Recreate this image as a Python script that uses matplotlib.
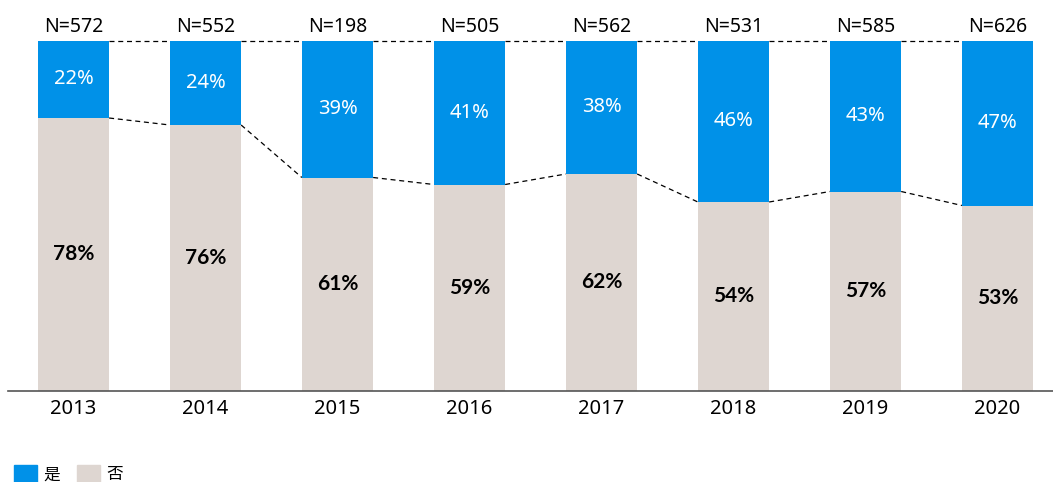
import matplotlib.pyplot as plt
from matplotlib.patches import Rectangle
import numpy as np

plt.rcParams['font.family'] = ['Noto Sans', 'Noto Sans CJK SC', 'DejaVu Sans']

years = ['2013', '2014', '2015', '2016', '2017', '2018', '2019', '2020']
yes_pct = [22, 24, 39, 41, 38, 46, 43, 47]
no_pct = [78, 76, 61, 59, 62, 54, 57, 53]
n_counts = [572, 552, 198, 505, 562, 531, 585, 626]

blue = '#0091E8'
beige = '#DED6D1'
bw = 0.54

fig = plt.figure(figsize=(10.53, 4.82), dpi=100)
ax = fig.add_axes([8 / 1053, 91 / 482, 1045 / 1053, 350 / 482])

x = np.arange(len(years))
ax.bar(x, no_pct, width=bw, color=beige, zorder=2)
ax.bar(x, yes_pct, width=bw, bottom=no_pct, color=blue, zorder=2)

# dashed connectors between bars
for i in range(len(x) - 1):
    ax.plot([x[i] + bw / 2, x[i + 1] - bw / 2], [100, 100], color='black',
            ls=(0, (4, 3)), lw=0.9, zorder=1, clip_on=False)
    ax.plot([x[i] + bw / 2, x[i + 1] - bw / 2], [no_pct[i], no_pct[i + 1]],
            color='black', ls=(0, (4, 3)), lw=0.9, zorder=1)

for i in range(len(x)):
    ax.text(x[i], no_pct[i] + yes_pct[i] / 2, f'{yes_pct[i]}%', ha='center',
            va='center', color='white', fontsize=14.5)
    ax.text(x[i], no_pct[i] / 2, f'{no_pct[i]}%', ha='center', va='center',
            color='black', fontsize=15, fontweight='bold', family='Lato')
    ax.text(x[i], 101.2, f'N={n_counts[i]}', ha='center', va='bottom',
            color='black', fontsize=14, clip_on=False)

ax.set_xlim(-0.496, 7.42)
ax.set_ylim(0, 100)
ax.set_xticks(x)
ax.set_xticklabels(years, fontsize=14.5)
ax.tick_params(axis='x', length=0, pad=6)
ax.set_yticks([])
for s in ['top', 'right', 'left']:
    ax.spines[s].set_visible(False)
ax.spines['bottom'].set_color('#555555')
ax.spines['bottom'].set_linewidth(1.2)

# legend
for lx, col, lab in [(14, blue, '是'), (77, beige, '否')]:
    fig.patches.append(Rectangle((lx / 1053, 0), 23 / 1053, 17 / 482,
                                 transform=fig.transFigure, color=col))
    fig.text((lx + 29) / 1053, 7 / 482, lab, fontsize=12, va='center',
             ha='left', family=['Noto Sans CJK SC', 'DejaVu Sans'])

fig.savefig('out.png', dpi=100)
